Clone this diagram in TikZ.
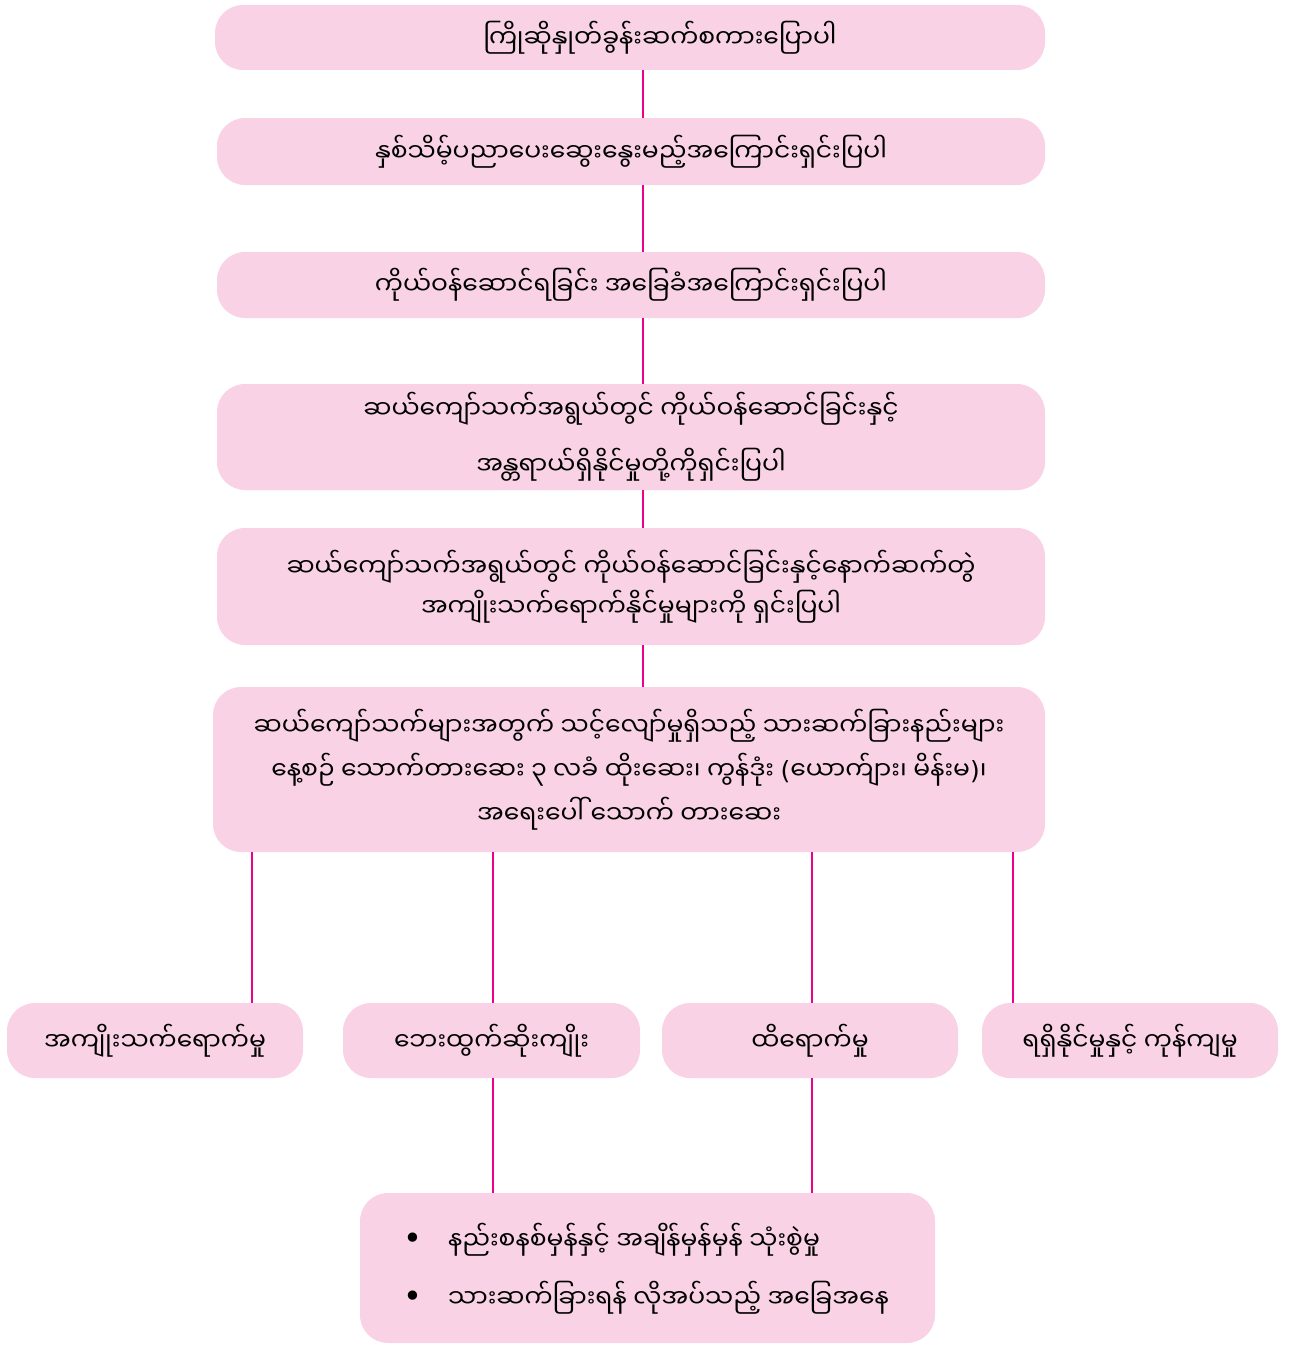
\documentclass[tikz,border=0pt]{standalone}
\usepackage{fontspec}
\usetikzlibrary{positioning}
\newfontfamily\mmfont[Script=Myanmar]{Noto Sans Myanmar UI}
\newfontfamily\symfont{DejaVu Sans}
\definecolor{boxpink}{HTML}{F9D3E5}
\definecolor{linkpink}{HTML}{EC008C}
\newcommand{\lp}{{\symfont(}}
\newcommand{\rp}{{\symfont)}}
\newcommand{\bul}{{\symfont\fontsize{32}{32}\selectfont •}}

\tikzset{
    stepbox/.style={fill=boxpink, rounded corners=28pt, align=center, inner sep=0pt,
        font=\mmfont\fontsize{25}{44}\selectfont},
    link/.style={draw=linkpink, line width=2.8pt}
}

\begin{document}
\begin{tikzpicture}[x=1pt, y=-1pt]
    \useasboundingbox (0,0) rectangle (1292,1346);
    % main column
    \node [stepbox, minimum width=830pt, minimum height=65pt] (greet) at (630,37.5) {\hspace*{60pt}ကြိုဆိုနှုတ်ခွန်းဆက်စကားပြောပါ};
    \node [stepbox, minimum width=828pt, minimum height=67pt] (explain) at (631,151.5) {နှစ်သိမ့်ပညာပေးဆွေးနွေးမည့်အကြောင်းရှင်းပြပါ};
    \node [stepbox, minimum width=828pt, minimum height=66pt] (basics) at (631,285) {ကိုယ်ဝန်ဆောင်ရခြင်း အခြေခံအကြောင်းရှင်းပြပါ};
    \node [stepbox, minimum width=828pt, minimum height=106pt, font=\mmfont\fontsize{25}{56}\selectfont] (risk) at (631,437) {ဆယ်ကျော်သက်အရွယ်တွင် ကိုယ်ဝန်ဆောင်ခြင်းနှင့်\\အန္တရာယ်ရှိနိုင်မှုတို့ကိုရှင်းပြပါ};
    \node [stepbox, minimum width=828pt, minimum height=117pt, font=\mmfont\fontsize{25}{40}\selectfont] (effect) at (631,586.5) {ဆယ်ကျော်သက်အရွယ်တွင် ကိုယ်ဝန်ဆောင်ခြင်းနှင့်နောက်ဆက်တွဲ\\အကျိုးသက်ရောက်နိုင်မှုများကို ရှင်းပြပါ};
    \node [stepbox, minimum width=832pt, minimum height=165pt] (methods) at (629,769.5) {ဆယ်ကျော်သက်များအတွက် သင့်လျော်မှုရှိသည့် သားဆက်ခြားနည်းများ\\နေ့စဉ် သောက်တားဆေး ၃ လခံ ထိုးဆေး၊ ကွန်ဒုံး \lp ယောက်ျား၊ မိန်းမ\rp ၊\\အရေးပေါ် သောက် တားဆေး};
    % criteria row
    \node [stepbox, minimum width=296pt, minimum height=75pt] (impact) at (155,1040.5) {အကျိုးသက်ရောက်မှု};
    \node [stepbox, minimum width=297pt, minimum height=75pt] (side) at (491.5,1040.5) {ဘေးထွက်ဆိုးကျိုး};
    \node [stepbox, minimum width=296pt, minimum height=75pt] (works) at (810,1040.5) {ထိရောက်မှု};
    \node [stepbox, minimum width=296pt, minimum height=75pt] (cost) at (1130,1040.5) {ရရှိနိုင်မှုနှင့် ကုန်ကျမှု};
    % usage box
    \node [stepbox, minimum width=575pt, minimum height=150pt] (usage) at (647.5,1268) {};
    \node [font=\mmfont\fontsize{25}{40}\selectfont, anchor=west, inner sep=0pt] (use1) at (403,1240) {\bul\hspace{26pt}နည်းစနစ်မှန်နှင့် အချိန်မှန်မှန် သုံးစွဲမှု};
    \node [font=\mmfont\fontsize{25}{40}\selectfont, anchor=west, inner sep=0pt] (use2) at (403,1298) {\bul\hspace{26pt}သားဆက်ခြားရန် လိုအပ်သည့် အခြေအနေ};

    \draw [link] ([xshift=13pt]greet.south) -- ([xshift=13pt]greet.south |- explain.north);
    \draw [link] ([xshift=12pt]explain.south) -- ([xshift=12pt]explain.south |- basics.north);
    \draw [link] ([xshift=12pt]basics.south) -- ([xshift=12pt]basics.south |- risk.north);
    \draw [link] ([xshift=12pt]risk.south) -- ([xshift=12pt]risk.south |- effect.north);
    \draw [link] ([xshift=12pt]effect.south) -- ([xshift=12pt]effect.south |- methods.north);
    \draw [link] (methods.south -| 252,0) -- (impact.north -| 252,0);
    \draw [link] (methods.south -| 493,0) -- (side.north -| 493,0);
    \draw [link] (methods.south -| 812,0) -- (works.north -| 812,0);
    \draw [link] (methods.south -| 1013,0) -- (cost.north -| 1013,0);
    \draw [link] (side.south -| 493,0) -- (usage.north -| 493,0);
    \draw [link] (works.south -| 812,0) -- (usage.north -| 812,0);
\end{tikzpicture}
\end{document}
